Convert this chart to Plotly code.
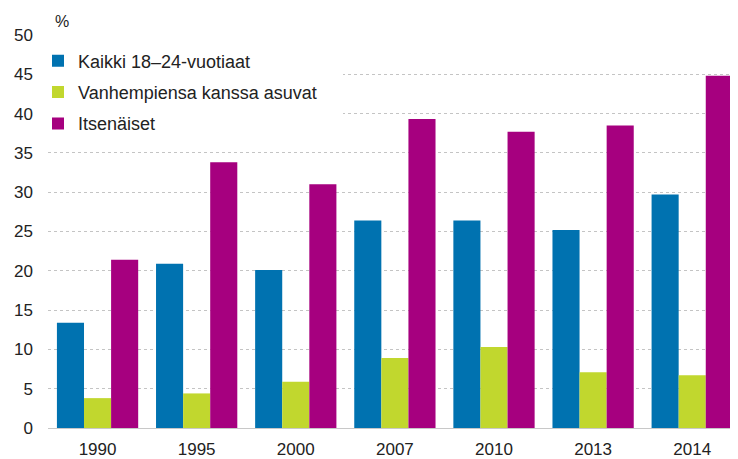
import plotly.graph_objects as go

# -----------------------
# Data
# -----------------------
YEARS = ["1990", "1995", "2000", "2007", "2010", "2013", "2014"]
KAIKKI = [13.4, 20.9, 20.1, 26.4, 26.4, 25.2, 29.7]
VANHEMPIENSA = [3.8, 4.4, 5.9, 8.9, 10.3, 7.1, 6.7]
ITSENAISET = [21.4, 33.8, 31.0, 39.3, 37.7, 38.5, 44.8]
Y_TICKS = [0, 5, 10, 15, 20, 25, 30, 35, 40, 45, 50]

SERIES = [
    ("Kaikki 18–24-vuotiaat", KAIKKI, "#0072b0"),
    ("Vanhempiensa kanssa asuvat", VANHEMPIENSA, "#c1d72e"),
    ("Itsenäiset", ITSENAISET, "#a6007f"),
]

FONT = "Arial, Liberation Sans, sans-serif"

# page body has an 8px margin, so the figure is drawn 8px smaller
W, H = 730, 451
ML, MT, MB = 40, 27, 31
PLOT_W = W - ML
PLOT_H = H - MT - MB

fig = go.Figure()

for i, (name, values, color) in enumerate(SERIES):
    fig.add_trace(go.Bar(
        x=YEARS,
        y=values,
        name=name,
        legendgroup=f"g{i}",
        marker=dict(color=color, line=dict(width=0)),
    ))

fig.add_annotation(
    text="%", xref="paper", yref="paper",
    x=13.5 / PLOT_W, y=1 + 13 / PLOT_H,
    xanchor="center", yanchor="middle", showarrow=False,
    font=dict(size=16, color="#222222", family=FONT),
)

# white box behind the legend, hiding the gridlines there (no bars reach it)
fig.add_shape(
    type="rect", xref="paper", yref="paper", layer="above",
    x0=0, x1=295 / PLOT_W, y0=1 - 110 / PLOT_H, y1=1 - 8 / PLOT_H,
    fillcolor="white", line=dict(width=0),
)

fig.update_layout(
    width=W, height=H,
    margin=dict(l=ML, r=0, t=MT, b=MB, autoexpand=False),
    paper_bgcolor="white",
    plot_bgcolor="white",
    barmode="group",
    bargap=0.18,
    bargroupgap=0,
    font=dict(family=FONT, size=17, color="#222222"),
    legend=dict(
        x=-10 / PLOT_W, y=0.981, xanchor="left", yanchor="top",
        bgcolor="white",
        font=dict(size=18),
        tracegroupgap=5,
        traceorder="grouped",
    ),
    showlegend=True,
)

fig.update_xaxes(
    type="category",
    range=[-0.5, 6.462],
    automargin=False,
    showgrid=False,
    showline=True, linecolor="#c8c8c8", linewidth=1,
    ticks="", ticklabelstandoff=6,
    tickfont=dict(size=17),
)

fig.update_yaxes(
    range=[0, 50],
    tickvals=Y_TICKS,
    automargin=False,
    showgrid=True, gridcolor="#c4c4c4", griddash="dot", gridwidth=1,
    zeroline=False,
    showline=False,
    ticks="", ticklabelstandoff=14,
    tickfont=dict(size=17),
)

fig.write_html("out.html")
